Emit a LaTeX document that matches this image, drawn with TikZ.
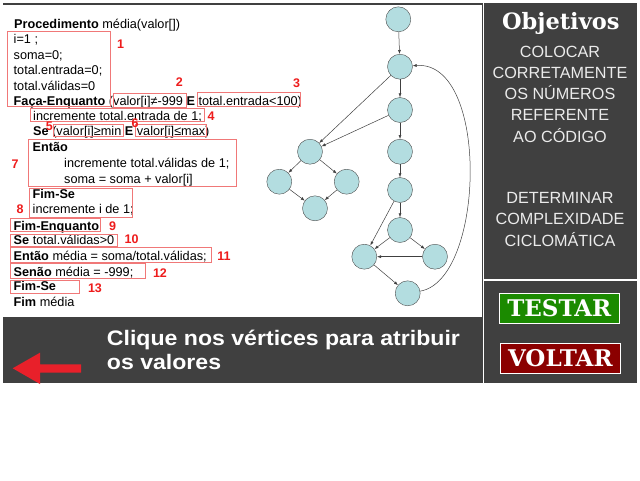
\documentclass[tikz,border=0pt]{standalone}
\usepackage{fontspec}
\setmainfont{Liberation Sans}
\newfontfamily\slabfont{DejaVu Serif}
\newfontfamily\heavyfont[FakeStretch=1.1]{Liberation Sans}
\usetikzlibrary{arrows.meta}
\definecolor{panelgray}{HTML}{404040}
\definecolor{nodecyan}{HTML}{B3DDE0}
\definecolor{markred}{HTML}{F07878}
\definecolor{labelred}{HTML}{EE1C1C}
\definecolor{okgreen}{HTML}{1B8A00}
\definecolor{backred}{HTML}{8B0000}
\definecolor{arrowred}{HTML}{E8202A}

\begin{document}
\begin{tikzpicture}[
        x=1pt, y=-1pt,
        code/.style={anchor=west, inner sep=0pt, text height=9pt, text depth=0pt, font=\fontsize{12.7}{14}\selectfont},
        markbox/.style={draw=markred, line width=0.8pt},
        num/.style={text=labelred, inner sep=0pt, font=\fontsize{12.5}{14}\selectfont\bfseries},
        vertex/.style={circle, draw=black!70, fill=nodecyan, minimum size=25pt, inner sep=0pt},
        arrow/.style={-{Latex[length=4pt,width=3pt]}, draw=black!75, line width=0.5pt},
        goal/.style={text=white!92!black, align=center, font=\fontsize{16.2}{21.2}\selectfont},
        btn/.style={draw=white, line width=0.8pt, minimum width=120pt, minimum height=30pt, inner sep=0pt, text=white, font=\slabfont\bfseries\fontsize{23}{24}\selectfont}
    ]
    \useasboundingbox (0,0) rectangle (640,480);
    % frame and panels
    \fill[panelgray] (3,2.5) rectangle (637,383);
    \fill[white] (0,5) rectangle (481.5,316.5);
    \draw[white, line width=1.2pt] (483.3,2.5) -- (483.3,383);
    \draw[white, line width=1.2pt] (484,280) -- (637,280);

    % code
    \node[code] (c0) at (14,24) {\textbf{Procedimento} média(valor[])};
    \node[code] (c1) at (13.5,39.3) {i=1 ;};
    \node[code] (c2) at (13.5,54.5) {soma=0;};
    \node[code] (c3) at (13.5,70) {total.entrada=0;};
    \node[code] (c4) at (13.5,85.5) {total.válidas=0};
    \node[code] (c5) at (13.5,100.5) {\textbf{Faça-Enquanto} (valor[i]≠-999 \textbf{E} total.entrada<100)};
    \node[code] (c6) at (33,116.3) {incremente total.entrada de 1;};
    \node[code] (c7) at (33,130.5) {\textbf{Se} (valor[i]≥min \textbf{E} valor[i]≤max)};
    \node[code] (c8) at (32.5,147.3) {\textbf{Então}};
    \node[code] (c9) at (64,163.3) {incremente total.válidas de 1;};
    \node[code] (c10) at (64,179) {soma = soma + valor[i]};
    \node[code] (c11) at (32.5,193.6) {\textbf{Fim-Se}};
    \node[code] (c12) at (32.5,209.3) {incremente i de 1;};
    \node[code] (c13) at (13.5,225.7) {\textbf{Fim-Enquanto}};
    \node[code] (c14) at (13.5,240) {\textbf{Se} total.válidas>0};
    \node[code] (c15) at (13.5,255.7) {\textbf{Então} média = soma/total.válidas;};
    \node[code] (c16) at (13.5,271.5) {\textbf{Senão} média = -999;};
    \node[code] (c17) at (13.5,286) {\textbf{Fim-Se}};
    \node[code] (c18) at (13.5,301.7) {\textbf{Fim} média};

    % marked blocks
    \draw[markbox] (7.3,31.7) rectangle (110.7,106.7);
    \draw[markbox] (113.3,93.3) rectangle (186,107.3);
    \draw[markbox] (197.7,92.3) rectangle (300,106.7);
    \draw[markbox] (30.7,108.3) rectangle (204,121.7);
    \draw[markbox] (53.3,124) rectangle (123.3,136.7);
    \draw[markbox] (135.7,124) rectangle (206.7,136.7);
    \draw[markbox] (28.3,139.3) rectangle (236,186);
    \draw[markbox] (29.3,188.3) rectangle (132.7,217.3);
    \draw[markbox] (10.7,218.3) rectangle (100,231.7);
    \draw[markbox] (10.7,234) rectangle (117.3,246.7);
    \draw[markbox] (10.7,247.3) rectangle (211.7,262.3);
    \draw[markbox] (10.7,263.3) rectangle (145,278.3);
    \draw[markbox] (10.7,280) rectangle (79.3,293.3);

    \node[num] (n1) at (120.7,44) {1};
    \node[num] (n2) at (179.3,81.7) {2};
    \node[num] (n3) at (296.7,83.3) {3};
    \node[num] (n4) at (211,116.5) {4};
    \node[num] (n5) at (49.3,126) {5};
    \node[num] (n6) at (135,123.3) {6};
    \node[num] (n7) at (15,164) {7};
    \node[num] (n8) at (20,209.3) {8};
    \node[num] (n9) at (112.7,225.7) {9};
    \node[num] (n10) at (131.7,239.3) {10};
    \node[num] (n11) at (224,255.7) {11};
    \node[num] (n12) at (160,273.3) {12};
    \node[num] (n13) at (95,288.3) {13};

    % flow graph
    \node[vertex] (g1) at (398.3,19.3) {};
    \node[vertex] (g2) at (400,66.7) {};
    \node[vertex] (g3) at (400,110) {};
    \node[vertex] (g4) at (400,151.7) {};
    \node[vertex] (g5) at (400,190) {};
    \node[vertex] (g6) at (400,230) {};
    \node[vertex] (g7) at (435,256.7) {};
    \node[vertex] (g8) at (364.3,256.7) {};
    \node[vertex] (g9) at (407.7,293.3) {};
    \node[vertex] (h1) at (310,151.7) {};
    \node[vertex] (h2) at (279.3,181.7) {};
    \node[vertex] (h3) at (346.7,181.7) {};
    \node[vertex] (h4) at (315,208.3) {};
    \draw[arrow] (g1) -- (g2);
    \draw[arrow] (g2) -- (g3);
    \draw[arrow] (g3) -- (g4);
    \draw[arrow] (g4) -- (g5);
    \draw[arrow] (g5) -- (g6);
    \draw[arrow] (g2) -- (h1);
    \draw[arrow] (g3) -- (h1);
    \draw[arrow] (h1) -- (h2);
    \draw[arrow] (h1) -- (h3);
    \draw[arrow] (h2) -- (h4);
    \draw[arrow] (h3) -- (h4);
    \draw[arrow] (g5) -- (g8);
    \draw[arrow] (g6) -- (g8);
    \draw[arrow] (g6) -- (g7);
    \draw[arrow] (g7) -- (g8);
    \draw[arrow] (g8) -- (g9);
    \draw[arrow] (g9) .. controls (485,280) and (490,60) .. (g2);

    % right column
    \node[text=white, font=\slabfont\bfseries\fontsize{22.5}{24}\selectfont] (title) at (560.8,23.3) {Objetivos};
    \node[goal] (goal1) at (560,94.2) {COLOCAR\\CORRETAMENTE\\OS NÚMEROS\\REFERENTE\\AO CÓDIGO};
    \node[goal] (goal2) at (560,219.4) {DETERMINAR\\COMPLEXIDADE\\CICLOMÁTICA};
    \node[btn, fill=okgreen] (testar) at (559.3,308.3) {TESTAR};
    \node[btn, fill=backred] (voltar) at (560.3,358.3) {VOLTAR};

    % hint
    \node[anchor=west, align=left, text=white, inner sep=0pt, font=\heavyfont\bfseries\fontsize{21}{23.4}\selectfont] (hint) at (106.7,350) {Clique nos vértices para atribuir\\os valores};
    \fill[arrowred] (12.7,368.3) -- (40,352.7) -- (40,364.3) -- (81,364.3) -- (81,372.7) -- (40,372.7) -- (40,384) -- cycle;
\end{tikzpicture}
\end{document}
